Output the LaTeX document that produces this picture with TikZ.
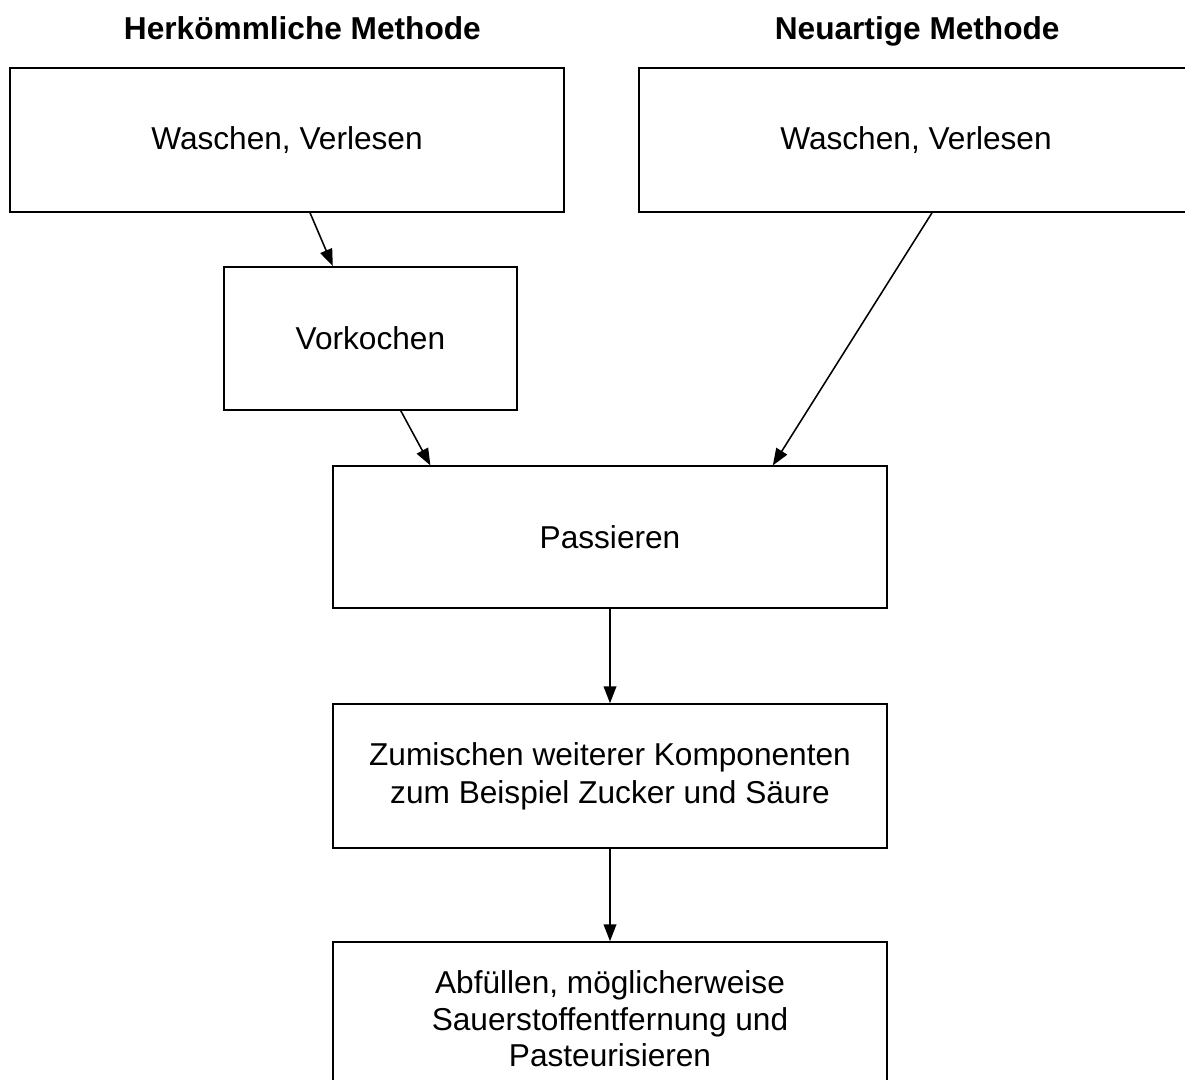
\documentclass[tikz,border=0pt]{standalone}
\usepackage{fontspec}
\setmainfont{Liberation Sans}
\usetikzlibrary{arrows.meta}

\begin{document}
\begin{tikzpicture}[
 box/.style={draw, line width=1.1pt, rectangle, align=center, font=\fontsize{22.5}{27}\selectfont},
 title/.style={anchor=base, font=\fontsize{22.5}{27}\selectfont\bfseries},
 arrow/.style={-{Triangle[length=12pt,width=9pt]}, line width=1.1pt}
]

% Bildausschnitt
\useasboundingbox (0,0) rectangle (29.625,-26.975);
\clip (0,0) rectangle (29.625,-26.975);

% Ueberschriften
\node[title] (oldtitle) at (7.56,-0.975) {Herkömmliche Methode};
\node[title] (newtitle) at (22.93,-0.975) {Neuartige Methode};

% Herkoemmliche Methode
\node[box, minimum width=13.85cm, minimum height=3.6cm] (wash1) at (7.175,-3.5) {Waschen, Verlesen};
\node[box, minimum width=7.33cm, minimum height=3.58cm] (precook) at (9.26,-8.46) {Vorkochen};

% Neuartige Methode
\node[box, minimum width=13.85cm, minimum height=3.6cm] (wash2) at (22.9,-3.5) {Waschen, Verlesen};

% gemeinsame Schritte
\node[box, minimum width=13.85cm, minimum height=3.55cm] (sieve) at (15.25,-13.43) {Passieren};

\node[box, minimum width=13.85cm, minimum height=3.6cm] (mix) at (15.25,-19.4) {
Zumischen weiterer Komponenten\\
zum Beispiel Zucker und Säure
};

\node[box, minimum width=13.85cm, minimum height=3.85cm, font=\fontsize{22.5}{26}\selectfont] (fill) at (15.25,-25.475) {
Abfüllen, möglicherweise\\
Sauerstoffentfernung und\\
Pasteurisieren
};

% Pfeile
\draw[arrow] ([xshift=0.575cm]wash1.south) -- ([xshift=-0.94cm]precook.north);
\draw[arrow] ([xshift=0.76cm]precook.south) -- ([xshift=-4.49cm]sieve.north);
\draw[arrow] ([xshift=0.4cm]wash2.south) -- ([xshift=4.07cm]sieve.north);
\draw[arrow] (sieve) -- (mix);
\draw[arrow] (mix) -- (fill);

\end{tikzpicture}
\end{document}
